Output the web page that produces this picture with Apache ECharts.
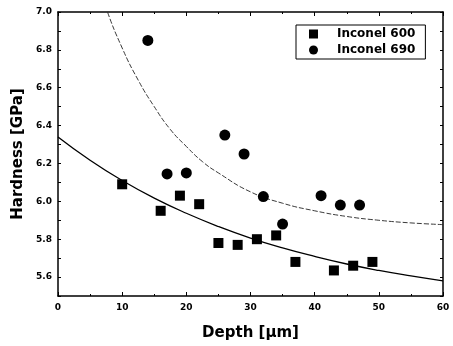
<!DOCTYPE html>
<html><head><meta charset="utf-8">
<script src="https://cdn.jsdelivr.net/npm/echarts@6/dist/echarts.min.js"></script>
<style>html,body{margin:0;padding:0;background:#fff}#c{width:453px;height:346px}</style>
</head><body><div id="c"></div>
<script>
// Inconel 600 (squares)
const depth600 = [10, 16, 19, 22, 25, 28, 31, 34, 37, 43, 46, 49];
const hard600  = [6.09, 5.95, 6.03, 5.985, 5.78, 5.77, 5.80, 5.82, 5.68, 5.635, 5.66, 5.68];
// Inconel 690 (circles)
const depth690 = [14, 17, 20, 26, 29, 32, 35, 41, 44, 47];
const hard690  = [6.85, 6.145, 6.15, 6.35, 6.25, 6.025, 5.88, 6.03, 5.98, 5.98];
// fit curves
const fit600X = [0, 5, 10, 15, 20, 25, 30, 35, 40, 45, 50, 55, 60];
const fit600Y = [6.34, 6.217, 6.11, 6.017, 5.937, 5.867, 5.806, 5.754, 5.709, 5.669, 5.635, 5.606, 5.58];
const fit690X = [5, 7.5, 10, 12.5, 15, 17.5, 20, 22.5, 25, 30, 35, 40, 45, 50, 55, 60];
const fit690Y = [7.28, 7.02, 6.81, 6.64, 6.50, 6.38, 6.29, 6.21, 6.15, 6.05, 5.99, 5.95, 5.92, 5.90, 5.886, 5.877];
const seriesNames = ['Inconel 600', 'Inconel 690'];

const zip = (a, b) => a.map((v, i) => [v, b[i]]);
const FONT = 'DejaVu Sans';
const black = '#000';

const chart = echarts.init(document.getElementById('c'), null, {renderer: 'canvas'});
const xBase = {
  type: 'value', min: 0, max: 60, interval: 10,
  axisLine: {show: true, onZero: false, lineStyle: {color: black, width: 1.5}},
  axisTick: {show: true, inside: true, length: 4, lineStyle: {color: black}},
  minorTick: {show: true, splitNumber: 2, length: 2, lineStyle: {color: black}},
  splitLine: {show: false}
};
const yBase = {
  type: 'value', min: 5.5, max: 7.0, interval: 0.1,
  axisLine: {show: true, onZero: false, lineStyle: {color: black, width: 1.5}},
  axisTick: {show: true, inside: true, length: 3, lineStyle: {color: black}},
  splitLine: {show: false}
};
chart.setOption({
  animation: false,
  backgroundColor: '#fff',
  grid: {left: 58, right: 10, top: 12, bottom: 50, containLabel: false},
  xAxis: [
    Object.assign({}, xBase, {
      position: 'bottom',
      name: 'Depth [μm]', nameLocation: 'middle', nameGap: 30,
      nameTextStyle: {fontFamily: FONT, fontWeight: 'bold', fontSize: 15, color: black},
      axisLabel: {fontFamily: FONT, fontWeight: 'bold', fontSize: 9, color: black, margin: 7}
    }),
    Object.assign({}, xBase, {position: 'top', axisLabel: {show: false}})
  ],
  yAxis: [
    Object.assign({}, yBase, {
      position: 'left',
      name: 'Hardness [GPa]', nameLocation: 'middle', nameGap: 31, nameRotate: 90,
      nameTextStyle: {fontFamily: FONT, fontWeight: 'bold', fontSize: 15, color: black},
      axisLabel: {
        fontFamily: FONT, fontWeight: 'bold', fontSize: 9, color: black, margin: 6,
        formatter: v => (Math.round(v * 10) % 2 === 0 && v > 5.55) ? v.toFixed(1) : ''
      }
    }),
    Object.assign({}, yBase, {position: 'right', axisLabel: {show: false}})
  ],
  legend: {
    data: [
      {name: seriesNames[0], icon: 'rect'},
      {name: seriesNames[1], icon: 'circle'}
    ],
    orient: 'vertical', left: 296, top: 25,
    backgroundColor: '#fff', borderColor: black, borderWidth: 1, borderRadius: 0,
    padding: [3, 10, 3, 13], itemGap: 4, itemWidth: 9, itemHeight: 9,
    textStyle: {fontFamily: FONT, fontWeight: 'bold', fontSize: 12, color: black, padding: [0, 0, 0, 14]}
  },
  series: [
    {name: seriesNames[0], type: 'scatter', symbol: 'rect', symbolSize: 10,
     itemStyle: {color: black, opacity: 1}, data: zip(depth600, hard600), z: 5},
    {name: seriesNames[1], type: 'scatter', symbol: 'circle', symbolSize: 11,
     itemStyle: {color: black, opacity: 1}, data: zip(depth690, hard690), z: 5},
    {name: 'fit600', type: 'line', smooth: true, showSymbol: false, clip: true,
     lineStyle: {color: black, width: 1.3}, data: zip(fit600X, fit600Y)},
    {name: 'fit690', type: 'line', smooth: true, showSymbol: false, clip: true,
     lineStyle: {color: '#222', width: 0.9, type: [5, 2]}, data: zip(fit690X, fit690Y)}
  ]
});
</script></body></html>
